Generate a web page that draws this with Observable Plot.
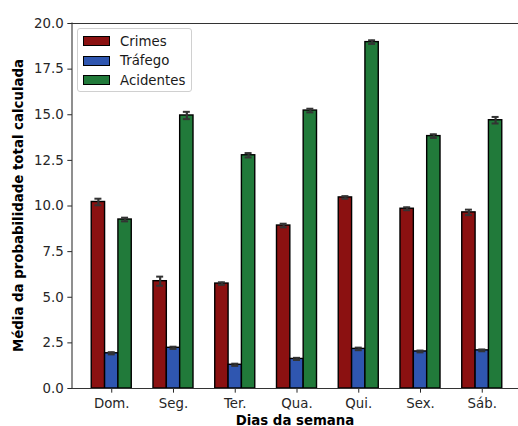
<!DOCTYPE html>
<html>
<head>
<meta charset="utf-8">
<script src="https://cdn.jsdelivr.net/npm/d3@7"></script>
<script src="https://cdn.jsdelivr.net/npm/@observablehq/plot@0.6"></script>
<style>
  html, body { margin: 0; padding: 0; background: #fff; overflow: hidden; }
  #wrap { position: relative; width: 518px; height: 426px; overflow: hidden; font-family: "DejaVu Sans", sans-serif; }
  #legend { position: absolute; left: 77px; top: 28px; width: 115px; height: 64px;
    border: 1px solid #d0d0d0; border-radius: 3px; background: rgba(255,255,255,0.85); box-sizing: border-box; }
  .row { position: absolute; left: 5px; height: 14px; display: flex; align-items: center; font-size: 13.33px; color: #1a1a1a; }
  .sw { width: 27px; height: 10px; border: 1px solid #000; margin-right: 10px; box-sizing: border-box; }
</style>
</head>
<body>
<div id="wrap"></div>
<script>
const days = ["Dom.", "Seg.", "Ter.", "Qua.", "Qui.", "Sex.", "Sáb."];
const seriesNames = ["Crimes", "Tráfego", "Acidentes"];
const seriesColors = ["#8b1111", "#2f56b0", "#217a3a"];
const crimes = [10.22, 5.88, 5.75, 8.93, 10.47, 9.85, 9.65];
const trafego = [1.93, 2.23, 1.30, 1.62, 2.17, 2.03, 2.09];
const acidentes = [9.26, 14.96, 12.78, 15.23, 18.98, 13.83, 14.70];
const crimesErr = [0.18, 0.25, 0.07, 0.10, 0.07, 0.08, 0.15];
const trafegoErr = [0.06, 0.06, 0.06, 0.06, 0.07, 0.05, 0.05];
const acidentesErr = [0.10, 0.20, 0.12, 0.10, 0.10, 0.10, 0.18];
const yTicks = [0, 2.5, 5, 7.5, 10, 12.5, 15, 17.5, 20];

const values = [crimes, trafego, acidentes];
const errs = [crimesErr, trafegoErr, acidentesErr];

const W = 518, H = 426, mL = 72, mR = 0, mT = 23, mB = 38;
const xRange = [72, 521];
const padIn = 0.352, padOut = 0.3115;
const band = d3.scaleBand().domain(days).range(xRange).paddingInner(padIn).paddingOuter(padOut).align(0.5);
const bw = band.bandwidth();
const sub = bw / 3;
const capHalf = 3.5;

const marks = [];
values.forEach((vals, i) => {
  const data = days.map((d, j) => ({day: d, v: vals[j], lo: vals[j] - errs[i][j], hi: vals[j] + errs[i][j]}));
  marks.push(Plot.barY(data, {x: "day", y: "v", fill: seriesColors[i], stroke: "#000", strokeWidth: 1.4,
    insetLeft: i * sub, insetRight: (2 - i) * sub}));
  marks.push(Plot.ruleX(data, {x: "day", y1: "lo", y2: "hi", dx: (i - 1) * sub, stroke: "#333", strokeWidth: 2.2}));
  marks.push(Plot.tickY(data, {x: "day", y: "lo", stroke: "#333", strokeWidth: 2,
    insetLeft: i * sub + sub / 2 - capHalf, insetRight: (2 - i) * sub + sub / 2 - capHalf}));
  marks.push(Plot.tickY(data, {x: "day", y: "hi", stroke: "#333", strokeWidth: 2,
    insetLeft: i * sub + sub / 2 - capHalf, insetRight: (2 - i) * sub + sub / 2 - capHalf}));
});
marks.push(Plot.ruleY([0], {stroke: "#333", strokeWidth: 1.1}));
marks.push(Plot.ruleY([20], {stroke: "#333", strokeWidth: 1.1}));

const chart = Plot.plot({
  width: W, height: H,
  marginLeft: mL, marginRight: mR, marginTop: mT, marginBottom: mB,
  style: {fontFamily: "DejaVu Sans", fontSize: "13.33px", color: "#262626", background: "white"},
  x: {domain: days, range: xRange, round: false, paddingInner: padIn, paddingOuter: padOut, align: 0.5, label: null,
      tickSize: 4.67, tickPadding: 5.5},
  y: {domain: [0, 20], ticks: yTicks, tickFormat: d3.format(".1f"), label: null,
      tickSize: 4.67, tickPadding: 4.2},
  marks
});

const svg = d3.select(chart);
const y = chart.scale("y");
svg.append("line").attr("x1", mL).attr("x2", mL)
  .attr("y1", y.apply(0) + 0.5).attr("y2", y.apply(20) - 0.5)
  .attr("stroke", "#333").attr("stroke-width", 1.1);
svg.append("text").attr("transform", `translate(18,${(mT + H - mB) / 2}) rotate(-90)`)
  .attr("text-anchor", "middle").attr("dominant-baseline", "central")
  .attr("font-weight", "bold").attr("font-size", "13.33px").attr("fill", "#000")
  .text("Média da probabilidade total calculada");
svg.append("text").attr("x", (mL + W) / 2).attr("y", 420)
  .attr("text-anchor", "middle").attr("dominant-baseline", "central")
  .attr("font-weight", "bold").attr("font-size", "13.33px").attr("fill", "#000")
  .text("Dias da semana");

const wrap = document.getElementById("wrap");
wrap.appendChild(chart);

const legend = document.createElement("div");
legend.id = "legend";
seriesNames.forEach((name, i) => {
  const row = document.createElement("div");
  row.className = "row";
  row.style.top = (5 + i * 19.7) + "px";
  const sw = document.createElement("div");
  sw.className = "sw";
  sw.style.background = seriesColors[i];
  row.appendChild(sw);
  row.appendChild(document.createTextNode(name));
  legend.appendChild(row);
});
wrap.appendChild(legend);
</script>
</body>
</html>
